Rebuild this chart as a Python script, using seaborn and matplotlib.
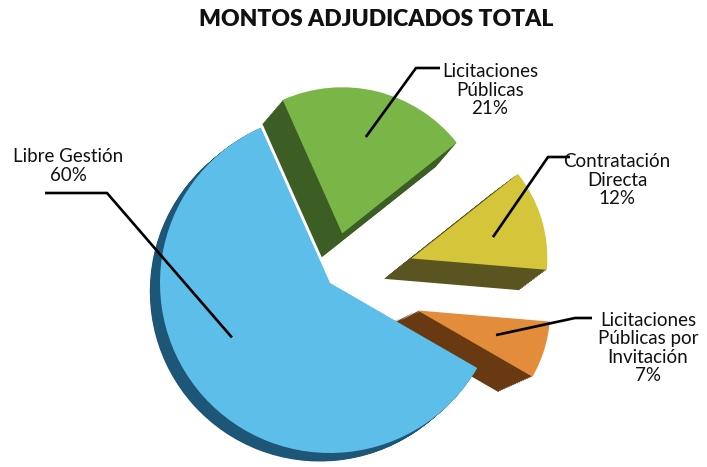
import numpy as np
import matplotlib
matplotlib.use("Agg")
import matplotlib.pyplot as plt
import seaborn as sns

# data (counter-clockwise from the top edge of "Libre Gestión")
categories = ["Libre Gestión", "Licitaciones Públicas por Invitación",
              "Contratación Directa", "Licitaciones Públicas"]
label_lines = ["Libre Gestión", "Licitaciones\nPúblicas por\nInvitación",
               "Contratación\nDirecta", "Licitaciones\nPúblicas"]
shares = [60, 7, 12, 21]

top_colors = ["#5CBEE9", "#E38C3C", "#D5C53B", "#7AB647"]
side_colors = ["#1D5676", "#693912", "#5A5520", "#3C5D24"]
explode = [0.0, 0.54, 0.5, 0.3]
radii = [1.0, 0.78, 0.8, 0.86]   # smaller far slices (perspective look)
# extrusion offset of each slice's side face (down-left)
depths = [(-0.06, -0.05), (-0.2, -0.09), (-0.16, -0.12), (-0.12, -0.14)]

sns.set_theme(style="white")
plt.rcParams["font.family"] = ["Lato", "DejaVu Sans"]

W, H = 707, 467
R = 170.0                 # pie radius in pixels
cx, cy = 330, H - 283     # pie centre in pixels (y up)


def px(x, y_img):
    """image pixel -> data coords (radius = 1)"""
    return (x - cx) / R, (H - y_img - cy) / R


fig = plt.figure(figsize=(W / 100, H / 100), dpi=100)
ax = fig.add_axes([0, 0, 1, 1])

# extruded side faces: stack of darker copies shifted down-left
for t in np.linspace(1, 0.04, 18):
    side, _ = ax.pie(shares, colors=side_colors, startangle=114, counterclock=True,
                     explode=explode, radius=1, wedgeprops=dict(linewidth=0))
    for w, r, d in zip(side, radii, depths):
        w.set_radius(r)
        w.set_center((w.center[0] + d[0] * t, w.center[1] + d[1] * t))

wedges, _ = ax.pie(shares, colors=top_colors, startangle=114, counterclock=True,
                   explode=explode, radius=1, wedgeprops=dict(linewidth=0))
for w, r in zip(wedges, radii):
    w.set_radius(r)

ax.set_aspect("equal", adjustable="datalim")
ax.set_xlim(px(0, 0)[0], px(W, 0)[0])
ax.set_ylim(px(0, H)[1], px(0, 0)[1])
ax.axis("off")

# label layout: text centre, elbow start, elbow corner (image pixels)
text_pos = [(68, 166), (648, 348), (617, 180), (490, 90)]
elbow_start = [(45, 193), (592, 318), (570, 157), (440, 68)]
elbow_corner = [(107, 193), (575, 318), (548, 157), (416, 68)]
anchor_at = [0.44, 0.5, 0.45, 0.5]     # position along the slice angle
anchor_frac = [0.66, 0.62, 0.62, 0.68]  # fraction of slice radius

for i, w in enumerate(wedges):
    ang = np.deg2rad(w.theta1 + anchor_at[i] * (w.theta2 - w.theta1))
    ax_x = w.center[0] + anchor_frac[i] * w.r * np.cos(ang)
    ax_y = w.center[1] + anchor_frac[i] * w.r * np.sin(ang)
    p0 = px(*elbow_start[i])
    p1 = px(*elbow_corner[i])
    ax.plot([p0[0], p1[0], ax_x], [p0[1], p1[1], ax_y], color="black",
            lw=1.9, solid_capstyle="butt", zorder=5)
    tx, ty = px(*text_pos[i])
    ax.text(tx, ty, f"{label_lines[i]}\n{shares[i]}%", ha="center", va="center",
            fontsize=13.5, color="#111111", linespacing=1.1, zorder=6)

fig.text(376 / W, 1 - 19 / H, "MONTOS ADJUDICADOS TOTAL", ha="center",
         va="center", fontsize=16.5, fontweight="heavy", color="#111111")

fig.savefig("out.png", dpi=100, facecolor="white")
